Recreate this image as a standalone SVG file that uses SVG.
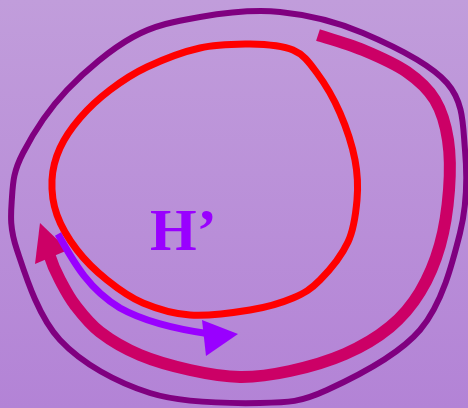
<svg xmlns="http://www.w3.org/2000/svg" width="468" height="408" viewBox="0 0 468 408">
  <defs>
    <linearGradient id="bg" x1="0" y1="0" x2="0" y2="1">
      <stop offset="0" stop-color="#c19ddb"/>
      <stop offset="1" stop-color="#b383d6"/>
    </linearGradient>
    <style>
      .loop { fill: none; stroke-linejoin: round; }
      .label { font-family: "Liberation Serif", "Times New Roman", serif; font-weight: bold; font-size: 60px; fill: #9900ff; }
    </style>
  </defs>
  <rect x="0" y="0" width="468" height="408" fill="url(#bg)"/>

  <g id="outer-loop">
    <path class="loop" stroke="#800080" stroke-width="6" d="M280,12 C307.2,14.7 335.2,21.2 363,33 C390.8,44.8 430,63.5 447,83 C464,102.5 462.8,125 465,150 C467.2,175 467.5,203 460,233 C452.5,263 442.2,303.8 420,330 C397.8,356.2 353.7,377.8 327,390 C300.3,402.2 289.5,402.5 260,403 C230.5,403.5 183.3,403.5 150,393 C116.7,382.5 82.2,363.8 60,340 C37.8,316.2 25,273.8 17,250 C9,226.2 11,213.2 12,197 C13,180.8 13.8,170.8 23,153 C32.2,135.2 48.7,109.3 67,90 C85.3,70.7 110.8,49.2 133,37 C155.2,24.8 175.5,21.2 200,17 C224.5,12.8 252.8,9.3 280,12 Z"/>
  </g>

  <g id="inner-loop">
    <path class="loop" stroke="#ff0000" stroke-width="7" d="M250,44 C265.5,44.3 281.8,45.2 293,50 C304.2,54.8 309.2,62.5 317,73 C324.8,83.5 333.7,98.5 340,113 C346.3,127.5 352.2,145.5 355,160 C357.8,174.5 358.2,186.3 357,200 C355.8,213.7 354.2,228.7 348,242 C341.8,255.3 329.2,270.7 320,280 C310.8,289.3 304.7,293 293,298 C281.3,303 267.2,307.2 250,310 C232.8,312.8 207.8,316.2 190,315 C172.2,313.8 156.8,308.8 143,303 C129.2,297.2 118,288.8 107,280 C96,271.2 85.3,260.8 77,250 C68.7,239.2 61.2,226.7 57,215 C52.8,203.3 51.5,191.2 52,180 C52.5,168.8 55.3,158.3 60,148 C64.7,137.7 71.7,127.7 80,118 C88.3,108.3 98.8,98.5 110,90 C121.2,81.5 132,74 147,67 C162,60 182.8,51.8 200,48 C217.2,44.2 234.5,44.3 250,44 Z"/>
  </g>

  <g id="connectors">
    <g id="crimson-arrow">
      <path class="loop" stroke="#cc0066" stroke-width="12" stroke-linecap="butt" d="M318,35 C325.5,37.5 348.2,43.8 363,50 C377.8,56.2 395,63.7 407,72 C419,80.3 428.2,88.7 435,100 C441.8,111.3 445.7,125 448,140 C450.3,155 450.3,172.5 449,190 C447.7,207.5 444.8,228 440,245 C435.2,262 428.3,278.3 420,292 C411.7,305.7 402.5,316.7 390,327 C377.5,337.3 361.7,346.7 345,354 C328.3,361.3 307.5,367.2 290,371 C272.5,374.8 256.7,377.2 240,377 C223.3,376.8 206.7,373.7 190,370 C173.3,366.3 155,361.3 140,355 C125,348.7 110.8,340.3 100,332 C89.2,323.7 81.7,313.7 75,305 C68.3,296.3 64.2,287.8 60,280 C55.8,272.2 51.5,262 49,254"/>
      <polygon fill="#cc0066" points="40,223 35,264 68,250"/>
    </g>
    <g id="violet-arrow">
      <path class="loop" stroke="#9900ff" stroke-width="7" stroke-linecap="butt" d="M58,234 C75,265 90,290 120,308 C145,322 175,329 210,334"/>
      <polygon fill="#9900ff" points="238,334 202,320 206,356"/>
    </g>
  </g>

  <g id="label">
    <text class="label" x="150" y="250">H’</text>
  </g>
</svg>
